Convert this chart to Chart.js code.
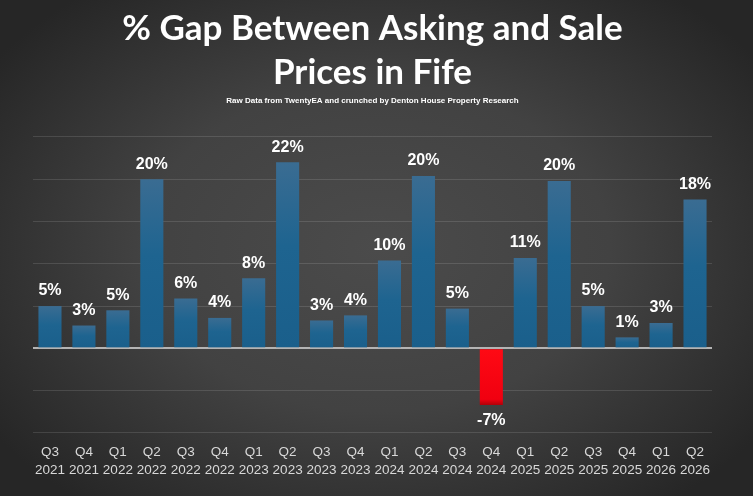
<!DOCTYPE html>
<html>
<head>
<meta charset="utf-8">
<script src="https://cdn.jsdelivr.net/npm/chart.js@4/dist/chart.umd.min.js"></script>
<style>
html,body{margin:0;padding:0;background:#333;}
#wrap{width:753px;height:496px;position:relative;}
</style>
</head>
<body>
<div id="wrap"><canvas id="c" width="753" height="496"></canvas></div>
<script>
const quarters = ['Q3','Q4','Q1','Q2','Q3','Q4','Q1','Q2','Q3','Q4','Q1','Q2','Q3','Q4','Q1','Q2','Q3','Q4','Q1','Q2'];
const years = ['2021','2021','2022','2022','2022','2022','2023','2023','2023','2023','2024','2024','2024','2024','2025','2025','2025','2025','2026','2026'];
const gapValues = [5.0, 2.7, 4.5, 20.0, 5.9, 3.6, 8.3, 22.0, 3.3, 3.9, 10.4, 20.4, 4.7, -6.7, 10.7, 19.8, 5.0, 1.3, 3.0, 17.6];
const titleLines = ['% Gap Between Asking and Sale', 'Prices in Fife'];
const subtitleText = 'Raw Data from TwentyEA and crunched by Denton House Property Research';

const labels = quarters.map((q, i) => [q, years[i]]);

const bgPlugin = {
  id: 'bg',
  beforeDraw(chart) {
    const ctx = chart.ctx, w = chart.width, h = chart.height;
    ctx.save();
    ctx.fillStyle = '#282828';
    ctx.fillRect(0, 0, w, h);
    ctx.translate(w / 2, h * 0.5);
    ctx.scale(1, 0.7);
    const g = ctx.createRadialGradient(0, 0, 0, 0, 0, w * 0.62);
    g.addColorStop(0, '#4b4b4b');
    g.addColorStop(0.5, '#424242');
    g.addColorStop(1, '#262626');
    ctx.fillStyle = g;
    ctx.fillRect(-w, -h * 2, w * 2, h * 4);
    ctx.restore();
  }
};

const labelPlugin = {
  id: 'valLabels',
  afterDatasetsDraw(chart) {
    const ctx = chart.ctx;
    const meta = chart.getDatasetMeta(0);
    ctx.save();
    ctx.font = "bold 16px 'Liberation Sans', Arial, sans-serif";
    ctx.fillStyle = '#ffffff';
    ctx.textAlign = 'center';
    ctx.textBaseline = 'middle';
    meta.data.forEach((el, i) => {
      const v = chart.data.datasets[0].data[i];
      const txt = Math.round(v) + '%';
      const y = v >= 0 ? el.y - 15 : el.y + 16;
      ctx.fillText(txt, el.x, y);
    });
    ctx.restore();
  }
};

function barColor(context) {
  const chart = context.chart;
  const v = context.raw;
  const solid = v < 0 ? '#ff0010' : '#1d6390';
  const ys = chart.scales && chart.scales.y;
  if (!ys || !chart.chartArea) return solid;
  const y0 = ys.getPixelForValue(0);
  const y1 = ys.getPixelForValue(v);
  if (!isFinite(y0) || !isFinite(y1) || y0 === y1) return solid;
  const g = chart.ctx.createLinearGradient(0, Math.min(y0, y1), 0, Math.max(y0, y1));
  if (v < 0) {
    g.addColorStop(0, '#ff0a14');
    g.addColorStop(0.9, '#f00010');
    g.addColorStop(1, '#b00008');
  } else {
    g.addColorStop(0, '#3a6c92');
    g.addColorStop(0.45, '#1e6490');
    g.addColorStop(1, '#1a5f8b');
  }
  return g;
}

const chart = new Chart(document.getElementById('c'), {
  type: 'bar',
  data: {
    labels: labels,
    datasets: [{
      data: gapValues,
      backgroundColor: barColor,
      borderWidth: 0,
      barPercentage: 0.68,
      categoryPercentage: 1.0
    }]
  },
  options: {
    responsive: false,
    animation: false,
    devicePixelRatio: 1,
    layout: { padding: { left: 33, right: 41, top: 0, bottom: 6 } },
    plugins: {
      legend: { display: false },
      tooltip: { enabled: false },
      title: {
        display: true,
        text: titleLines,
        color: '#ffffff',
        font: { family: "Lato, 'Open Sans', sans-serif", size: 35, weight: 'bold', lineHeight: 1.257 },
        padding: { top: 7, bottom: 0 }
      },
      subtitle: {
        display: true,
        text: subtitleText,
        color: '#ffffff',
        font: { family: "'Liberation Sans', Arial, sans-serif", size: 8, weight: 'bold', lineHeight: 1.5 },
        padding: { top: 0, bottom: 30 }
      }
    },
    scales: {
      x: {
        grid: { display: false, drawTicks: false },
        border: { display: false },
        ticks: {
          color: '#d8d8d8',
          padding: 11,
          maxRotation: 0,
          autoSkip: false,
          font: { family: "'Liberation Sans', Arial, sans-serif", size: 13.5, lineHeight: 1.3 }
        }
      },
      y: {
        min: -10,
        max: 25,
        ticks: { display: false, stepSize: 5 },
        border: { display: false },
        grid: {
          drawTicks: false,
          color: (c) => c.tick && c.tick.value === 0 ? '#b4b4b4' : 'rgba(255,255,255,0.12)',
          lineWidth: (c) => c.tick && c.tick.value === 0 ? 2 : 1
        }
      }
    }
  },
  plugins: [bgPlugin, labelPlugin]
});
chart.update();
</script>
</body>
</html>
